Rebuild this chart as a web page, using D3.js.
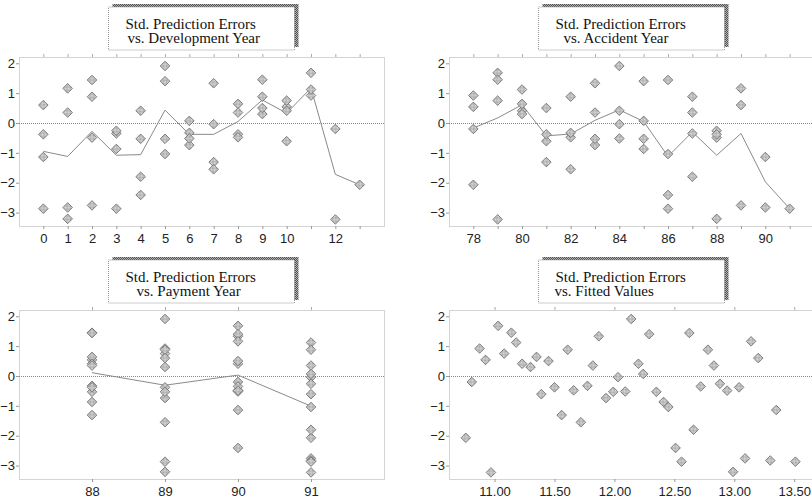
<!DOCTYPE html>
<html>
<head>
<meta charset="utf-8">
<script src="https://cdn.jsdelivr.net/npm/d3@7/dist/d3.min.js"></script>
<style>
  body { margin: 0; background: #fff; }
  .tick-label { font-family: "Liberation Sans", Arial, sans-serif; font-size: 13px; fill: #222; }
  .title-text { font-family: "Liberation Serif", "Times New Roman", serif; font-size: 15px; fill: #111; }
</style>
</head>
<body>
<div class="chart"></div>
<script>
var svgWidth = 812;
var svgHeight = 501;

// one entry per cell of the triangle (accident year x development year)
var accYear = [78, 78, 78, 78, 79, 79, 79, 79, 80, 80, 80, 80, 81, 81, 81, 81,
  82, 82, 82, 82, 83, 83, 83, 83, 84, 84, 84, 84, 85, 85, 85, 85,
  86, 86, 86, 86, 87, 87, 87, 87, 88, 88, 88, 88, 89, 89, 89, 90, 90, 91];
var devYear = [13, 12, 11, 10, 12, 11, 10, 9, 11, 10, 9, 8, 10, 9, 8, 7,
  9, 8, 7, 6, 8, 7, 6, 5, 7, 6, 5, 4, 6, 5, 4, 3,
  5, 4, 3, 2, 4, 3, 2, 1, 3, 2, 1, 0, 2, 1, 0, 1, 0, 0];
var payYear = [91, 90, 89, 88, 91, 90, 89, 88, 91, 90, 89, 88, 91, 90, 89, 88,
  91, 90, 89, 88, 91, 90, 89, 88, 91, 90, 89, 88, 91, 90, 89, 88,
  91, 90, 89, 88, 91, 90, 89, 88, 91, 90, 89, 88, 91, 90, 89, 91, 90, 91];
var fitted = [10.76, 10.81, 10.875, 10.925, 10.97, 11.03, 11.08, 11.14, 11.18, 11.23, 11.30, 11.35,
  11.39, 11.45, 11.50, 11.56, 11.61, 11.66, 11.72, 11.775, 11.82, 11.87, 11.93, 11.99,
  12.03, 12.09, 12.14, 12.20, 12.24, 12.29, 12.35, 12.41, 12.45, 12.51, 12.56, 12.625,
  12.66, 12.72, 12.78, 12.83, 12.88, 12.94, 12.99, 13.04, 13.09, 13.14, 13.20, 13.30, 13.35, 13.51];
var resid = [-2.07, -0.20, 0.92, 0.54, -3.23, 1.68, 0.75, 1.45, 1.12, 0.41, 0.30, 0.64,
  -0.61, 0.50, -0.38, -1.31, 0.88, -0.48, -1.55, -0.33, 0.35, 1.33, -0.74, -0.53,
  -0.04, -0.52, 1.91, 0.41, 0.07, 1.40, -0.53, -0.87, -1.04, -2.41, -2.87, 1.44,
  -1.80, -0.35, 0.88, 0.35, -0.26, -0.49, -3.21, -0.38, -2.76, 1.16, 0.60, -2.83, -1.14, -2.87];

// mean lines
var devLineX = [0, 1, 2, 3, 4, 5, 6, 7, 8, 9, 10, 11, 12, 13];
var devMeans = [-0.95, -1.12, -0.28, -1.08, -1.06, 0.43, -0.38, -0.38, 0.05, 0.77, 0.33, 1.17, -1.72, -2.07];
var accLineX = [78, 79, 80, 81, 82, 83, 84, 85, 86, 87, 88, 89, 90, 91];
var accMeans = [-0.17, 0.17, 0.61, -0.43, -0.37, 0.09, 0.44, 0.05, -1.12, -0.30, -1.08, -0.35, -1.97, -2.87];
var payLineX = [88, 89, 90, 91];
var payMeans = [0.11, -0.31, 0.03, -1.01];

// ticks
var yTicks = [2, 1, 0, -1, -2, -3];
var devTicks = [0, 1, 2, 3, 4, 5, 6, 7, 8, 9, 10, 11, 12, 13];
var devLabels = [0, 1, 2, 3, 4, 5, 6, 7, 8, 9, 10, 12];
var accTicks = [78, 79, 80, 81, 82, 83, 84, 85, 86, 87, 88, 89, 90, 91];
var accLabels = [78, 80, 82, 84, 86, 88, 90];
var payTicks = [88, 89, 90, 91];
var fitTicks = [11, 11.5, 12, 12.5, 13, 13.5];

var titles = [
  ["Std. Prediction Errors", "vs. Development Year"],
  ["Std. Prediction Errors", "vs. Accident Year"],
  ["Std. Prediction Errors", "vs. Payment Year"],
  ["Std. Prediction Errors", "vs. Fitted Values"]
];

var svg = d3.select(".chart")
  .append("svg")
  .attr("width", svgWidth)
  .attr("height", svgHeight);

// fill patterns for the diamonds and the title shadows
var defs = svg.append("defs");
var pat = defs.append("pattern")
  .attr("id", "dots")
  .attr("width", 2).attr("height", 2)
  .attr("patternUnits", "userSpaceOnUse");
pat.append("rect").attr("width", 2).attr("height", 2).attr("fill", "#dcdcdc");
pat.append("rect").attr("width", 1).attr("height", 1).attr("fill", "#a4a4a4");
pat.append("rect").attr("x", 1).attr("y", 1).attr("width", 1).attr("height", 1).attr("fill", "#a4a4a4");

var shade = defs.append("pattern")
  .attr("id", "shade")
  .attr("width", 2).attr("height", 2)
  .attr("patternUnits", "userSpaceOnUse");
shade.append("rect").attr("width", 2).attr("height", 2).attr("fill", "#b0b0b0");
shade.append("rect").attr("width", 1).attr("height", 1).attr("fill", "#505050");
shade.append("rect").attr("x", 1).attr("y", 1).attr("width", 1).attr("height", 1).attr("fill", "#505050");

var plotW = 365;
var plotH = 169;

var panels = [
  { left: 19, top: 57, domain: [-1, 14], x: devYear, lineX: devLineX, lineY: devMeans,
    ticks: devTicks, labels: devLabels, fmt: d3.format("d"), indent: 19 },
  { left: 449, top: 57, domain: [77, 92], x: accYear, lineX: accLineX, lineY: accMeans,
    ticks: accTicks, labels: accLabels, fmt: d3.format("d"), indent: 25 },
  { left: 19, top: 310, domain: [87, 92], x: payYear, lineX: payLineX, lineY: payMeans,
    ticks: payTicks, labels: payTicks, fmt: d3.format("d"), indent: 28 },
  { left: 449, top: 310, domain: [10.62, 13.665], x: fitted, lineX: null, lineY: null,
    ticks: fitTicks, labels: fitTicks, fmt: d3.format(".2f"), indent: 16 }
];

var diamond = d3.symbol().type(d3.symbolSquare).size(46);

panels.forEach(function(p, i) {
  var g = svg.append("g")
    .attr("transform", `translate(${p.left}, ${p.top})`);

  var xScale = d3.scaleLinear().domain(p.domain).range([0, plotW]);
  var yScale = d3.scaleLinear().domain([-3.45, 2.21]).range([plotH, 0]);

  // title box with hatched shadow
  var bx = plotW / 2 - 93;
  var by = -50;
  g.append("rect")
    .attr("x", bx + 4).attr("y", by - 3)
    .attr("width", 186).attr("height", 43)
    .attr("fill", "url(#shade)");
  g.append("rect")
    .attr("x", bx).attr("y", by)
    .attr("width", 186).attr("height", 43)
    .attr("fill", "#fff")
    .attr("stroke", "#999")
    .attr("stroke-dasharray", "1,1");
  g.append("text")
    .attr("class", "title-text")
    .attr("x", bx + 17).attr("y", by + 21.5)
    .text(titles[i][0]);
  g.append("text")
    .attr("class", "title-text")
    .attr("x", bx + p.indent).attr("y", by + 36)
    .text(titles[i][1]);

  // frame
  g.append("rect")
    .attr("x", 0.5).attr("y", 0.5)
    .attr("width", plotW).attr("height", plotH)
    .attr("fill", "none")
    .attr("stroke", "#a8a8a8")
    .attr("stroke-dasharray", "1,1");

  // zero line
  g.append("line")
    .attr("x1", 0).attr("x2", plotW)
    .attr("y1", Math.round(yScale(0)) + 0.5).attr("y2", Math.round(yScale(0)) + 0.5)
    .attr("stroke", "#888")
    .attr("stroke-dasharray", "1,1");

  // y axis
  var leftAxis = d3.axisLeft(yScale)
    .tickValues(yTicks)
    .tickSize(3)
    .tickPadding(1)
    .tickFormat(d3.format("d"));
  var yAxis = g.append("g").call(leftAxis);
  yAxis.select(".domain").remove();
  yAxis.selectAll(".tick line").attr("stroke", "#999");
  yAxis.selectAll(".tick text").attr("class", "tick-label").attr("font-size", null).attr("font-family", null);

  // x axis at bottom and little ticks at top
  var bottomAxis = d3.axisBottom(xScale)
    .tickValues(p.ticks)
    .tickSize(3)
    .tickPadding(5)
    .tickFormat(function(d) { return p.labels.indexOf(d) >= 0 ? p.fmt(d) : ""; });
  var xAxis = g.append("g")
    .attr("transform", `translate(0, ${plotH})`)
    .call(bottomAxis);
  xAxis.select(".domain").remove();
  xAxis.selectAll(".tick line").attr("stroke", "#999");
  xAxis.selectAll(".tick text").attr("class", "tick-label").attr("font-size", null).attr("font-family", null);

  var topAxis = d3.axisTop(xScale)
    .tickValues(p.ticks)
    .tickSize(3)
    .tickFormat("");
  var tAxis = g.append("g").call(topAxis);
  tAxis.select(".domain").remove();
  tAxis.selectAll(".tick line").attr("stroke", "#aaa");

  // mean line
  if (p.lineX) {
    var line = d3.line()
      .x(function(d, j) { return xScale(p.lineX[j]); })
      .y(function(d) { return yScale(d); });
    g.append("path")
      .datum(p.lineY)
      .attr("d", line)
      .attr("fill", "none")
      .attr("stroke", "#8a8a8a")
      .attr("stroke-width", 1);
  }

  // diamonds
  g.selectAll(".pt")
    .data(resid)
    .enter()
    .append("path")
    .attr("class", "pt")
    .attr("d", diamond)
    .attr("transform", function(d, j) {
      return `translate(${xScale(p.x[j])}, ${yScale(d)}) rotate(45)`;
    })
    .attr("fill", "url(#dots)")
    .attr("stroke", "#6e6e6e")
    .attr("stroke-width", 0.8);
});
</script>
</body>
</html>
